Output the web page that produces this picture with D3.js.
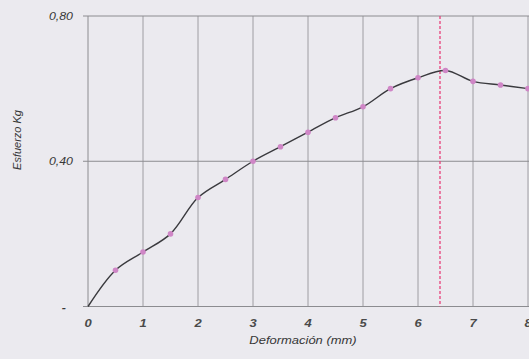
<!DOCTYPE html>
<html>
<head>
<meta charset="utf-8">
<script src="https://cdn.jsdelivr.net/npm/d3@7"></script>
<style>
  html, body { margin: 0; padding: 0; background: #ebeaef; }
  svg { display: block; }
  text { font-family: "Liberation Sans", Arial, sans-serif; font-style: italic; fill: #383838; }
</style>
</head>
<body>
<svg id="chart" width="529" height="359"></svg>
<script>
// Stress–strain readings (deformation in mm, stress in kg)
const deformacion = [0, 0.5, 1, 1.5, 2, 2.5, 3, 3.5, 4, 4.5, 5, 5.5, 6, 6.5, 7, 7.5, 8];
const esfuerzo    = [0, 0.10, 0.15, 0.20, 0.30, 0.35, 0.40, 0.44, 0.48, 0.52, 0.55, 0.60, 0.63, 0.65, 0.62, 0.61, 0.60];
const xTicks = [0, 1, 2, 3, 4, 5, 6, 7, 8];
const yTicks = [0, 0.40, 0.80];
const yTickLabels = ["-", "0,40", "0,80"];
const limiteX = 6.4;   // vertical reference at the peak region

const svg = d3.select("#chart");
const x = d3.scaleLinear().domain([0, 8]).range([88, 528]);
const y = d3.scaleLinear().domain([0, 0.8]).range([306.5, 16]);
const stretch = 1.18;  // horizontal widening of the lettering

// vertical grid lines
svg.append("g").selectAll("line")
  .data(xTicks.filter(d => d > 0))
  .join("line")
  .attr("x1", d => x(d)).attr("x2", d => x(d))
  .attr("y1", y(0.8)).attr("y2", y(0))
  .attr("stroke", "#8c8c90").attr("stroke-width", 0.8);

// horizontal grid lines (with short ticks to the left of the axis)
svg.append("g").selectAll("line")
  .data(yTicks)
  .join("line")
  .attr("x1", x(0) - 5).attr("x2", 529)
  .attr("y1", d => y(d)).attr("y2", d => y(d))
  .attr("stroke", "#8c8c90").attr("stroke-width", 1);

// y axis line
svg.append("line")
  .attr("x1", x(0)).attr("x2", x(0))
  .attr("y1", y(0.8)).attr("y2", y(0))
  .attr("stroke", "#8c8c90").attr("stroke-width", 1);

// y tick labels (the zero label is a dash, set a little further left)
svg.append("g").selectAll("text")
  .data(yTicks)
  .join("text")
  .attr("transform", d => `translate(${d === 0 ? 66 : 73},${y(d) + 4}) scale(${stretch},1)`)
  .attr("text-anchor", "end")
  .attr("font-size", 10.5)
  .attr("font-weight", d => d === 0 ? "bold" : "normal")
  .text((d, i) => yTickLabels[i]);

// x tick labels
svg.append("g").selectAll("text")
  .data(xTicks)
  .join("text")
  .attr("transform", d => `translate(${x(d)},327) scale(${stretch},1)`)
  .attr("text-anchor", "middle")
  .attr("font-size", 11)
  .attr("font-weight", "bold")
  .style("fill", "#4a4a4a")
  .text(d => d);

// axis titles
svg.append("text")
  .attr("transform", `translate(303,344) scale(${stretch},1)`)
  .attr("text-anchor", "middle")
  .attr("font-size", 11)
  .text("Deformación (mm)");

svg.append("text")
  .attr("transform", "translate(21,140) rotate(-90)")
  .attr("text-anchor", "middle")
  .attr("font-size", 11)
  .text("Esfuerzo Kg");

// dashed reference line
svg.append("line")
  .attr("x1", x(limiteX)).attr("x2", x(limiteX))
  .attr("y1", y(0.8)).attr("y2", y(0))
  .attr("stroke", "#e8407a").attr("stroke-width", 1.3)
  .attr("stroke-dasharray", "3,2");

const pts = deformacion.map((d, i) => [d, esfuerzo[i]]);

// smoothed curve
const line = d3.line()
  .x(d => x(d[0])).y(d => y(d[1]))
  .curve(d3.curveCatmullRom.alpha(0.5));

svg.append("path")
  .datum(pts)
  .attr("d", line)
  .attr("fill", "none")
  .attr("stroke", "#3a3a3e")
  .attr("stroke-width", 1.4);

// markers (none at the origin)
svg.append("g").selectAll("circle")
  .data(pts.filter(d => d[0] > 0))
  .join("circle")
  .attr("cx", d => x(d[0])).attr("cy", d => y(d[1]))
  .attr("r", 2.8)
  .attr("fill", "#cf86c6");
</script>
</body>
</html>
